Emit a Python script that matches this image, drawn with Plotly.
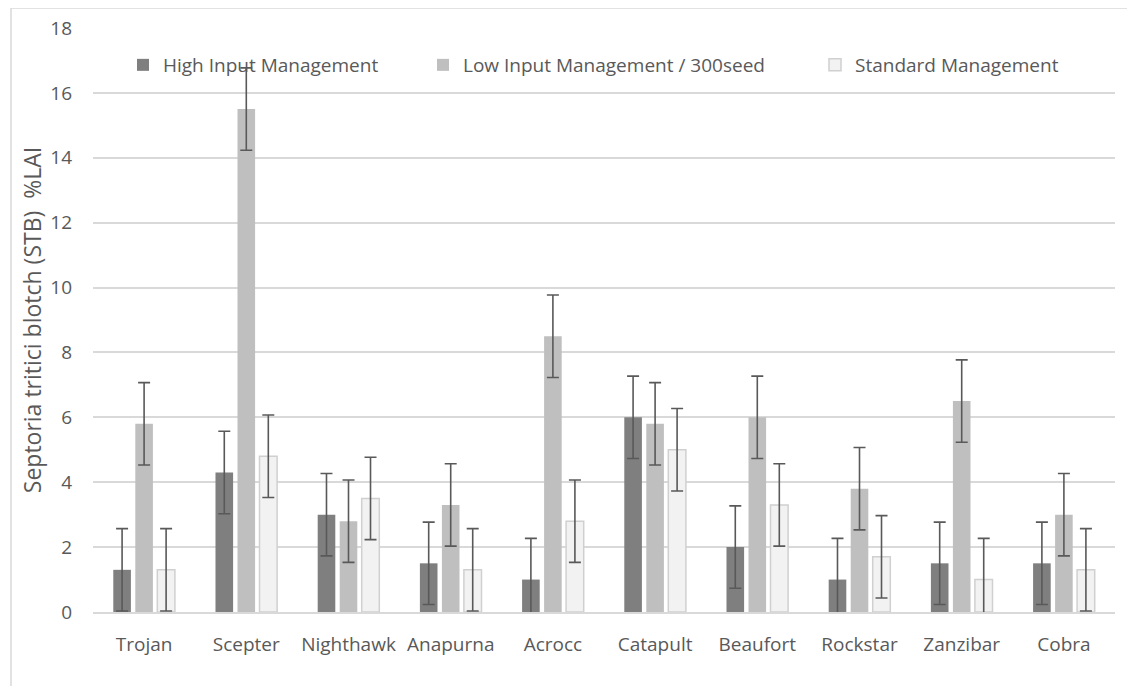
import plotly.graph_objects as go

categories = ["Trojan", "Scepter", "Nighthawk", "Anapurna", "Acrocc",
              "Catapult", "Beaufort", "Rockstar", "Zanzibar", "Cobra"]
high_input = [1.3, 4.3, 3.0, 1.5, 1.0, 6.0, 2.0, 1.0, 1.5, 1.5]
low_input = [5.8, 15.5, 2.8, 3.3, 8.5, 5.8, 6.0, 3.8, 6.5, 3.0]
standard = [1.3, 4.8, 3.5, 1.3, 2.8, 5.0, 3.3, 1.7, 1.0, 1.3]
err_high = [1.27] * 10
err_low = [1.27] * 10
err_std = [1.27] * 10

FONT = "Open Sans"
TXT = "#595959"
OFF = 8  # page body margin
W, H = 1135 - OFF, 686 - OFF
ML, MT = 93 - OFF, 28 - OFF
PR, PB = 1115 - OFF, 612 - OFF
MR, MB = W - PR, H - PB
PW, PH = PR - ML, PB - MT

def px_x(px):
    return (px - OFF - ML) / PW

def px_y(py):
    return 1 - (py - OFF - MT) / PH

err_style = dict(type="data", color="#595959", thickness=1.6, width=6)

fig = go.Figure()
fig.add_trace(go.Bar(
    name="High Input Management", x=categories, y=high_input,
    marker=dict(color="#7f7f7f", line=dict(width=0)),
    error_y=dict(array=err_high, **err_style), legend="legend"))
fig.add_trace(go.Bar(
    name="Low Input Management / 300seed", x=categories, y=low_input,
    marker=dict(color="#bfbfbf", line=dict(width=0)),
    error_y=dict(array=err_low, **err_style), legend="legend2"))
fig.add_trace(go.Bar(
    name="Standard Management", x=categories, y=standard,
    marker=dict(color="#f2f2f2", line=dict(color="#d0d0d0", width=1.5)),
    error_y=dict(array=err_std, **err_style), legend="legend3"))

leg_common = dict(orientation="h", yanchor="middle", xanchor="left",
                  font=dict(family=FONT, size=19, color=TXT),
                  bgcolor="rgba(0,0,0,0)", borderwidth=0,
                  itemwidth=30)

fig.update_layout(
    width=W, height=H,
    margin=dict(l=ML, r=MR, t=MT, b=MB, autoexpand=False),
    paper_bgcolor="white", plot_bgcolor="white",
    showlegend=True,
    barmode="group", bargap=0.354, bargroupgap=0.2,
    font=dict(family=FONT, size=19, color=TXT),
    legend=dict(x=px_x(163 - 40), y=px_y(65), **leg_common),
    legend2=dict(x=px_x(463 - 40), y=px_y(65), **leg_common),
    legend3=dict(x=px_x(855 - 40), y=px_y(65), **leg_common),
    xaxis=dict(showgrid=False, showline=True, linecolor="#d9d9d9", linewidth=1.5,
               ticks="", ticklabelstandoff=14, automargin=False,
               tickfont=dict(family=FONT, size=19, color=TXT)),
    yaxis=dict(range=[0, 18], dtick=2, showgrid=True, gridcolor="#d9d9d9",
               gridwidth=1.5, zeroline=False, showline=False, ticks="",
               ticklabelstandoff=20, automargin=False,
               tickfont=dict(family=FONT, size=19, color=TXT),
               title=dict(text="Septoria tritici blotch (STB)  %LAI",
                          font=dict(family=FONT, size=23, color=TXT),
                          standoff=2)),
    shapes=[dict(type="rect", xref="paper", yref="paper",
                 x0=px_x(11), x1=px_x(1180), y0=px_y(740), y1=px_y(8),
                 line=dict(color="#d9d9d9", width=1.5), fillcolor="rgba(0,0,0,0)",
                 layer="below")],
)

fig.write_html("out.html")
